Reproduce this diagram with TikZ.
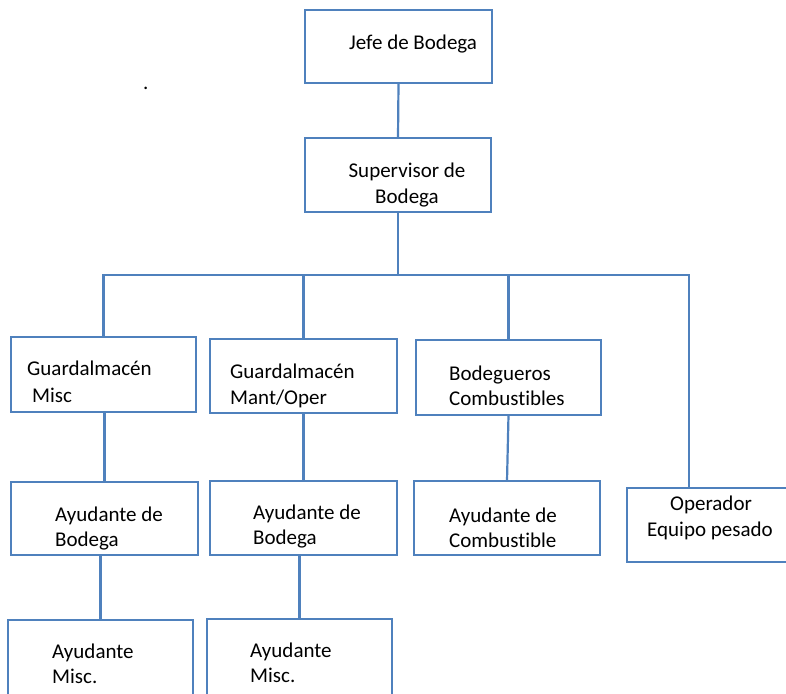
\documentclass[tikz,border=0pt]{standalone}
\usepackage{fontspec}
\setmainfont[RawFeature={-liga;-clig;-calt}]{Carlito}
\definecolor{lineblue}{HTML}{4F81BD}
\begin{document}
\begin{tikzpicture}[x=1pt,y=-1pt,
  box/.style={draw=lineblue,line width=2.2pt,inner sep=0pt,outer sep=0pt},
  conn/.style={draw=lineblue,line width=2.2pt},
  lbl/.style={anchor=base west,inner sep=0pt,font=\fontsize{21}{26}\selectfont},
  lblc/.style={anchor=base,inner sep=0pt,font=\fontsize{21}{26}\selectfont}]
\useasboundingbox (0,0) rectangle (786,693);
\clip (0,0) rectangle (786,693);
% boxes
\node[box,minimum width=187pt,minimum height=73pt] (jefe) at (398.5,46.5) {};
\node[box,minimum width=186pt,minimum height=74pt] (sup) at (398,175) {};
\node[box,minimum width=185pt,minimum height=75pt] (gm) at (103.5,374.5) {};
\node[box,minimum width=187pt,minimum height=74pt] (gmo) at (303.5,376) {};
\node[box,minimum width=185pt,minimum height=75pt] (bod) at (508.5,377.5) {};
\node[box,minimum width=187pt,minimum height=73pt] (ab1) at (104.5,518.5) {};
\node[box,minimum width=187pt,minimum height=74pt] (ab2) at (303.5,518) {};
\node[box,minimum width=186pt,minimum height=74pt] (ac) at (507,518) {};
\node[box,minimum width=200pt,minimum height=74pt] (op) at (727,525) {};
\node[box,minimum width=185pt,minimum height=90pt] (am1) at (100.5,665) {};
\node[box,minimum width=185pt,minimum height=90pt] (am2) at (299.5,664) {};
% texts
\node[lbl] (t1) at (349,49) {Jefe de Bodega};
\node[lblc] (t2a) at (407,177) {Supervisor de};
\node[lblc] (t2b) at (407,203) {Bodega};
\node[lbl] (t3a) at (27,375) {Guardalmacén};
\node[lbl] (t3b) at (32,402) {Misc};
\node[lbl] (t4a) at (230,378) {Guardalmacén};
\node[lbl] (t4b) at (230,404) {Mant/Oper};
\node[lbl] (t5a) at (449,380) {Bodegueros};
\node[lbl] (t5b) at (449,405) {Combustibles};
\node[lbl] (t6a) at (55,521) {Ayudante de};
\node[lbl] (t6b) at (55,546) {Bodega};
\node[lbl] (t7a) at (253,519) {Ayudante de};
\node[lbl] (t7b) at (253,544) {Bodega};
\node[lbl] (t8a) at (449,522) {Ayudante de};
\node[lbl] (t8b) at (449,547) {Combustible};
\node[lblc] (t9a) at (711,510) {Operador};
\node[lbl] (t9b) at (647,536) {Equipo pesado};
\node[lbl] (t10a) at (52,658) {Ayudante};
\node[lbl] (t10b) at (52,683) {Misc.};
\node[lbl] (t11a) at (250,657) {Ayudante};
\node[lbl] (t11b) at (250,682) {Misc.};
\node[lbl] (dot) at (143,89) {.};
% connectors
\coordinate (bus) at (398,275);
\coordinate (optop) at (689,488);
\draw[conn] (jefe.south) -- (sup.north);
\draw[conn] (sup.south) -- (bus);
\draw[conn] (gm.north) |- (optop |- bus) -- (optop);
\draw[conn] (gmo.north) -- (gmo.north |- bus);
\draw[conn] (bod.north) -- (bod.north |- bus);
\draw[conn] (gm.south) -- (gm.south -| ab1.north) -- (ab1.north);
\draw[conn] (gmo.south) -- (ab2.north);
\draw[conn] (bod.south) -- (ac.north);
\draw[conn] (am1.north |- ab1.south) -- (am1.north);
\draw[conn] (am2.north |- ab2.south) -- (am2.north);
\end{tikzpicture}
\end{document}
